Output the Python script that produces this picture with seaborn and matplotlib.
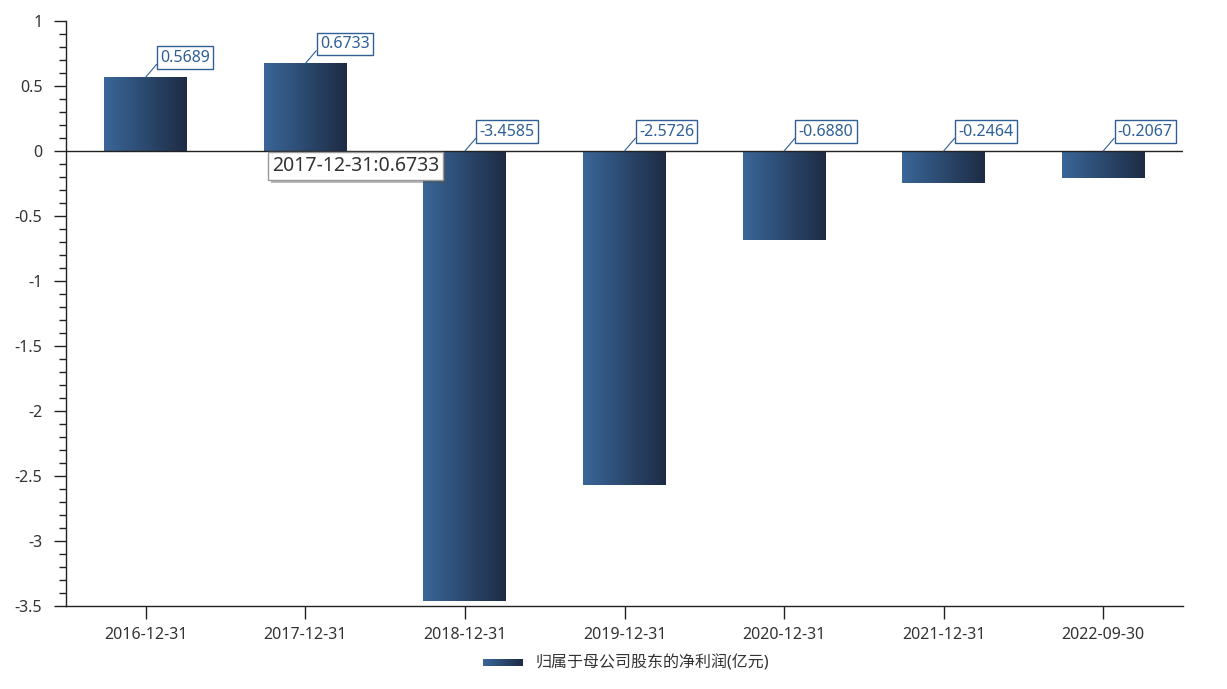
import matplotlib
matplotlib.use("Agg")
import matplotlib.pyplot as plt
import matplotlib.patheffects as pe
from matplotlib.ticker import MultipleLocator, FuncFormatter
from matplotlib.colors import LinearSegmentedColormap
import numpy as np
import pandas as pd
import seaborn as sns

dates = ["2016-12-31", "2017-12-31", "2018-12-31", "2019-12-31",
         "2020-12-31", "2021-12-31", "2022-09-30"]
profit = [0.5689, 0.6733, -3.4585, -2.5726, -0.6880, -0.2464, -0.2067]
series_name = "归属于母公司股东的净利润(亿元)"
tooltip = "2017-12-31:0.6733"

sns.set_theme(style="white")
plt.rcParams["font.family"] = ["Noto Sans", "Noto Sans CJK SC", "DejaVu Sans"]

LEFT_C = "#3a6698"
RIGHT_C = "#1d2c45"
LABEL_C = "#2f5f96"
grad = LinearSegmentedColormap.from_list("bar", [LEFT_C, RIGHT_C])
ramp = np.linspace(0, 1, 256).reshape(1, -1)

df = pd.DataFrame({"date": dates, "value": profit})

fig = plt.figure(figsize=(12.27, 6.89), dpi=100)
ax = fig.add_axes([66 / 1227, 83 / 689, 1117 / 1227, 585 / 689])
sns.barplot(data=df, x="date", y="value", ax=ax, width=0.52, color=LEFT_C)

# paint each bar with a horizontal gradient
for p in ax.patches:
    x0, y0 = p.get_x(), p.get_y()
    w, h = p.get_width(), p.get_height()
    im = ax.imshow(ramp, cmap=grad, aspect="auto", zorder=2,
                   extent=[x0, x0 + w, min(y0, y0 + h), max(y0, y0 + h)])
    im.set_clip_path(p)
    p.set_facecolor("none")
    p.set_edgecolor("none")
ax.set_xlim(-0.5, len(dates) - 0.5)
ax.set_ylim(-3.5, 1)

ax.axhline(0, color="#222222", lw=1, zorder=3)

for i, v in enumerate(profit):
    ax.annotate(f"{v:.4f}", xy=(i, max(v, 0)), xytext=(10.5, 14),
                textcoords="offset points", ha="left", va="center",
                fontsize=11.5, color=LABEL_C, zorder=5,
                bbox=dict(boxstyle="square,pad=0.2", fc="white", ec=LABEL_C, lw=1),
                arrowprops=dict(arrowstyle="-", color=LABEL_C, lw=0.8,
                                shrinkA=0, shrinkB=0, relpos=(0, 0.35)))

t = ax.text(0.79, -0.04, tooltip, ha="left", va="top", fontsize=14,
            color="#333333", zorder=6,
            bbox=dict(boxstyle="square,pad=0.2", fc="white", ec="#999999", lw=1))
t.get_bbox_patch().set_path_effects([pe.withSimplePatchShadow(offset=(2, -2), alpha=0.4)])

sns.despine(ax=ax)
for s in ["left", "bottom"]:
    ax.spines[s].set_color("#222222")
    ax.spines[s].set_linewidth(1)

ax.yaxis.set_major_locator(MultipleLocator(0.5))
ax.yaxis.set_minor_locator(MultipleLocator(0.1))
ax.yaxis.set_major_formatter(FuncFormatter(lambda v, _: f"{v:g}"))
ax.tick_params(axis="y", which="major", left=True, length=9, width=1,
               color="#222222", labelsize=11.5, labelcolor="#333333", pad=8)
ax.tick_params(axis="y", which="minor", left=True, length=5, width=1, color="#222222")
ax.tick_params(axis="x", bottom=True, length=9, width=1, color="#222222",
               labelsize=11.5, labelcolor="#333333", pad=6)
ax.set_xlabel("")
ax.set_ylabel("")

# legend: gradient swatch and label
sw = fig.add_axes([483 / 1227, (689 - 666) / 689, 40 / 1227, 7 / 689])
sw.imshow(ramp, cmap=grad, aspect="auto")
sw.axis("off")
fig.text(536 / 1227, (689 - 663) / 689, series_name, ha="left", va="center",
         fontsize=11.5, color="#333333")

fig.savefig("out.png", dpi=100)
